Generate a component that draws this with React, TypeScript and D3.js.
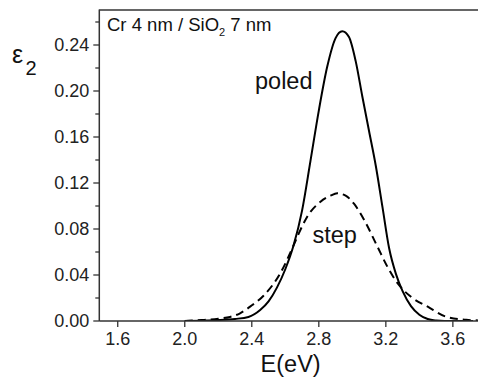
import React from "react";
import * as d3 from "d3";

const poledE = [2.0, 2.1, 2.2, 2.3, 2.38, 2.45, 2.5, 2.55, 2.6, 2.65, 2.7, 2.75, 2.8, 2.85, 2.9, 2.94, 2.98, 3.02, 3.06, 3.1, 3.14, 3.18, 3.22, 3.26, 3.3, 3.35, 3.4, 3.45, 3.5, 3.55, 3.72];
const poledV = [0, 0.0003, 0.0008, 0.0018, 0.0035, 0.0095, 0.017, 0.029, 0.045, 0.066, 0.096, 0.139, 0.183, 0.221, 0.246, 0.252, 0.247, 0.226, 0.195, 0.165, 0.135, 0.099, 0.063, 0.041, 0.026, 0.013, 0.0055, 0.0017, 0.0004, 0, 0];

const stepE = [2.0, 2.1, 2.2, 2.27, 2.33, 2.39, 2.47, 2.57, 2.65, 2.68, 2.73, 2.81, 2.87, 2.91, 2.96, 3.01, 3.07, 3.15, 3.21, 3.27, 3.35, 3.45, 3.56, 3.68, 3.75];
const stepV = [0, 0.0008, 0.002, 0.0035, 0.0067, 0.0125, 0.022, 0.0415, 0.066, 0.076, 0.0905, 0.1037, 0.109, 0.111, 0.109, 0.102, 0.088, 0.0646, 0.047, 0.0328, 0.021, 0.0125, 0.0037, 0.001, 0.0005];

const xTicks = [1.6, 2.0, 2.4, 2.8, 3.2, 3.6];
const yTicks = [0, 0.04, 0.08, 0.12, 0.16, 0.2, 0.24];
const yMinor = [0.02, 0.06, 0.1, 0.14, 0.18, 0.22, 0.26];

const FONT = "'Liberation Sans', Arial, sans-serif";
const AX = "#333";

export default function App() {
  const left = 99.3, right = 478, top = 10.5, bottom = 321;
  const x = d3.scaleLinear().domain([1.49, 3.75]).range([left, right]);
  const y = d3.scaleLinear().domain([0, 0.27]).range([bottom, top]);
  const line = d3
    .line<[number, number]>()
    .x((d) => x(d[0]))
    .y((d) => y(d[1]))
    .curve(d3.curveMonotoneX);
  const poled = poledE.map((e, i) => [e, poledV[i]] as [number, number]);
  const step = stepE.map((e, i) => [e, stepV[i]] as [number, number]);

  return (
    <svg
      width={478}
      height={378}
      style={{ position: "absolute", left: 0, top: 0, background: "#fff" }}
      fontFamily={FONT}
    >
      <defs>
        <clipPath id="pc">
          <rect x={left} y={top - 5} width={right - left} height={bottom - top + 5} />
        </clipPath>
      </defs>
      <g clipPath="url(#pc)">
        <path d={line(step) || ""} fill="none" stroke="#000" strokeWidth={2} strokeDasharray="8,5" />
        <path d={line(poled) || ""} fill="none" stroke="#000" strokeWidth={2} />
      </g>
      <line x1={left} x2={right} y1={top - 0.5} y2={top - 0.5} stroke={AX} strokeWidth={1.5} />
      <line x1={left} x2={left} y1={top - 1} y2={bottom} stroke={AX} strokeWidth={1.5} />
      <line x1={left} x2={right} y1={bottom} y2={bottom} stroke={AX} strokeWidth={1.5} />
      {yTicks.map((t) => (
        <g key={"y" + t}>
          <line x1={left - 6} x2={left} y1={y(t)} y2={y(t)} stroke={AX} strokeWidth={1.3} />
          <text x={left - 10} y={y(t) + 6} textAnchor="end" fontSize={18} fill="#222">
            {t.toFixed(2)}
          </text>
        </g>
      ))}
      {yMinor.map((t) => (
        <line key={"m" + t} x1={left - 4} x2={left} y1={y(t)} y2={y(t)} stroke={AX} strokeWidth={1.3} />
      ))}
      {xTicks.map((t) => (
        <g key={"x" + t}>
          <line x1={x(t)} x2={x(t)} y1={bottom} y2={bottom + 6} stroke={AX} strokeWidth={1.3} />
          <text x={x(t)} y={bottom + 24} textAnchor="middle" fontSize={18} fill="#222">
            {t.toFixed(1)}
          </text>
        </g>
      ))}
      <text x={(left + right) / 2 + 2} y={372} textAnchor="middle" fontSize={23.5} fill="#111">
        E(eV)
      </text>
      <text x={12} y={63} fontSize={25} fill="#111">ε</text>
      <text x={25.5} y={75} fontSize={20} fill="#111">2</text>
      <text x={107} y={31} fontSize={18.5} fill="#111">
        Cr 4 nm / SiO
        <tspan fontSize={11} dy={5}>2</tspan>
        <tspan dy={-5}> 7 nm</tspan>
      </text>
      <text x={255} y={89} fontSize={23.5} fill="#111">poled</text>
      <text x={312.5} y={243} fontSize={23.5} fill="#111">step</text>
    </svg>
  );
}
